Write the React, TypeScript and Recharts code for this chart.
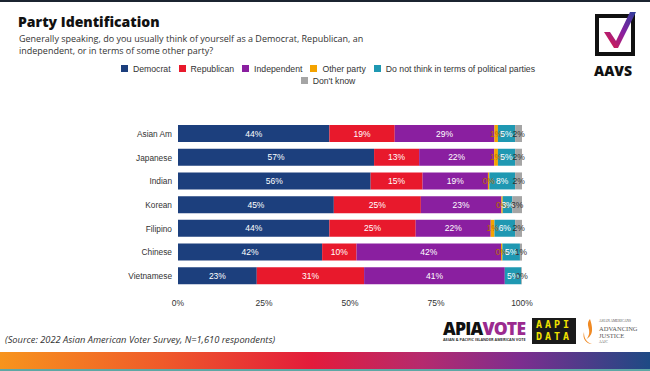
import React from "react"
import { Bar, BarChart, LabelList, Legend, XAxis, YAxis } from "recharts"

// groups, top to bottom
const groups = ["Asian Am", "Japanese", "Indian", "Korean", "Filipino", "Chinese", "Vietnamese"]

// shares in percent
const democrat = [44, 57, 56, 45.3, 44, 41.9, 22.9]
const republican = [19, 13.1, 15.1, 25.3, 25.1, 10, 31.2]
const independent = [29, 21.8, 19, 23.4, 21.8, 42, 40.9]
const otherParty = [1, 1.1, 0.4, 0.4, 1.1, 0.4, null]
const noParty = [5, 5, 7.5, 2.8, 6, 5.1, 4.8]
const dontKnow = [2, 2, 2, 2.8, 2, 0.6, 0.2]

const xTicks = [0, 25, 50, 75, 100]

const series = [
  { key: "dem", name: "Democrat", values: democrat, color: "#1c3f7d", labelColor: "#ffffff" },
  { key: "rep", name: "Republican", values: republican, color: "#e8192c", labelColor: "#ffffff" },
  { key: "ind", name: "Independent", values: independent, color: "#8a1fa0", labelColor: "#ffffff" },
  { key: "oth", name: "Other party", values: otherParty, color: "#f4a300", labelColor: "#b86e00" },
  { key: "non", name: "Do not think in terms of political parties", values: noParty, color: "#1f98b2", labelColor: "#ffffff" },
  { key: "dk", name: "Don't know", values: dontKnow, color: "#a5a5a5", labelColor: "#333333" },
]

const data = groups.map((g, i) => {
  const row: any = { group: g }
  series.forEach((s) => {
    row[s.key] = s.values[i]
  })
  return row
})

const font = "'Liberation Sans', Arial, sans-serif"

function LegendContent() {
  return (
    <div style={{ textAlign: "center", fontSize: 8.7, fontFamily: font, color: "#333", lineHeight: "11.5px" }}>
      {series.map((s) => (
        <span key={s.key} style={{ display: "inline-block", margin: "0 4px", whiteSpace: "nowrap" }}>
          <span style={{ display: "inline-block", width: 7, height: 7, background: s.color, marginRight: 5 }} />
          {s.name}
        </span>
      ))}
    </div>
  )
}

function AavsLogo() {
  return (
    <div style={{ position: "absolute", left: 592, top: 10, width: 48, height: 64 }}>
      <svg width="48" height="48" viewBox="0 0 48 48">
        <defs>
          <linearGradient id="chk" x1="0" y1="1" x2="1" y2="0">
            <stop offset="0%" stopColor="#e31b3b" />
            <stop offset="50%" stopColor="#8a1fa0" />
            <stop offset="100%" stopColor="#2c3f9c" />
          </linearGradient>
        </defs>
        <rect x="5" y="6" width="36" height="38" fill="none" stroke="#111" strokeWidth="4" />
        <path d="M12 22 L22 38 L26 38 L44 2 L38 2 L24 31 L18 22 Z" fill="url(#chk)" />
      </svg>
      <div style={{ fontFamily: "'Open Sans', sans-serif", fontWeight: 800, fontSize: 14, color: "#111", marginTop: -1, marginLeft: 2 }}>
        AAVS
      </div>
    </div>
  )
}

function FooterLogos() {
  return (
    <>
      <div style={{ position: "absolute", left: 443, top: 318, fontFamily: "'Open Sans', sans-serif", fontWeight: 800, fontSize: 17.5, letterSpacing: -0.8, lineHeight: "20px" }}>
        <span style={{ color: "#111" }}>APIA</span>
        <span style={{ color: "#9b2a8f" }}>VOTE</span>
        <div style={{ fontSize: 3.8, fontWeight: 700, letterSpacing: 0, lineHeight: "4px", color: "#333" }}>
          ASIAN &amp; PACIFIC ISLANDER AMERICAN VOTE
        </div>
      </div>
      <div style={{ position: "absolute", left: 532, top: 318, width: 44, height: 25, background: "#1a1a1a", color: "#f2e200", fontFamily: "'DejaVu Sans Mono', monospace", fontWeight: 700, fontSize: 10, lineHeight: "11.5px", textAlign: "center", letterSpacing: 3, paddingTop: 1 }}>
        AAPI
        <br />
        DATA
      </div>
      <svg style={{ position: "absolute", left: 582, top: 318 }} width="14" height="28" viewBox="0 0 14 28">
        <path d="M8 1 C2 8 12 12 4 22 C8 18 13 16 8 1 Z" fill="#f08a24" />
        <path d="M2 14 C0 20 4 26 10 26 C4 24 2 20 2 14 Z" fill="#f08a24" />
      </svg>
      <div style={{ position: "absolute", left: 599, top: 318, fontFamily: "'Liberation Serif', serif", color: "#555", lineHeight: "7px" }}>
        <div style={{ fontSize: 3.5 }}>ASIAN AMERICANS</div>
        <div style={{ fontSize: 6.5 }}>ADVANCING</div>
        <div style={{ fontSize: 6.5 }}>JUSTICE</div>
        <div style={{ fontSize: 3.5 }}>AAJC</div>
      </div>
    </>
  )
}

export default function App() {
  return (
    <div style={{ position: "absolute", left: 0, top: 0, width: 650, height: 371, overflow: "hidden", background: "#fff" }}>
      <div style={{ position: "absolute", left: 0, top: 0, width: 650, height: 2, background: "#1b2430" }} />
      <div style={{ position: "absolute", left: 18, top: 12, fontFamily: "'Open Sans', sans-serif", fontWeight: 800, fontSize: 14, color: "#111" }}>
        Party Identification
      </div>
      <div style={{ position: "absolute", left: 19, top: 33, width: 365, fontFamily: "'Open Sans', sans-serif", fontSize: 9, lineHeight: "12px", color: "#333" }}>
        Generally speaking, do you usually think of yourself as a Democrat, Republican, an independent, or in terms of some other party?
      </div>
      <AavsLogo />

      <div style={{ position: "absolute", left: 0, top: 0 }}>
        <BarChart
          width={650}
          height={371}
          data={data}
          layout="vertical"
          barSize={17}
          margin={{ top: 99, right: 128, bottom: 53, left: 0 }}
        >
          <XAxis
            type="number"
            domain={[0, 100]}
            ticks={xTicks}
            tickFormatter={(v) => `${v}%`}
            axisLine={false}
            tickLine={false}
            tickMargin={6}
            height={30}
            tick={{ fontSize: 8.5, fill: "#333", fontFamily: font }}
          />
          <YAxis
            type="category"
            dataKey="group"
            width={178}
            axisLine={false}
            tickLine={false}
            tickSize={4}
            tickMargin={2}
            tick={{ fontSize: 8.3, fill: "#333", fontFamily: font }}
          />
          <Legend
            verticalAlign="top"
            content={<LegendContent />}
            wrapperStyle={{ top: 64, left: 108, width: 440 }}
          />
          {series.map((s) => (
            <Bar key={s.key} dataKey={s.key} name={s.name} stackId="a" fill={s.color} isAnimationActive={false}>
              <LabelList
                dataKey={s.key}
                position="center"
                formatter={(v: any) => (v === null || v === undefined ? "" : `${Math.round(v)}%`)}
                style={{ fontSize: 8.5, fill: s.labelColor, fontFamily: font }}
              />
            </Bar>
          ))}
        </BarChart>
      </div>

      <div style={{ position: "absolute", left: 5, top: 333, fontFamily: "'Open Sans', sans-serif", fontStyle: "italic", fontSize: 9.3, color: "#333" }}>
        (Source: 2022 Asian American Voter Survey, N=1,610 respondents)
      </div>
      <FooterLogos />
      <div
        style={{
          position: "absolute",
          left: 0,
          top: 352,
          width: 650,
          height: 17,
          background: "linear-gradient(90deg, #f7941d 0%, #ef5a2a 25%, #e31b3b 48%, #b52a6e 65%, #7d2d8f 80%, #1e4a84 100%)",
        }}
      />
      <div style={{ position: "absolute", left: 0, top: 369, width: 650, height: 2, background: "#5fa7a5" }} />
    </div>
  )
}
